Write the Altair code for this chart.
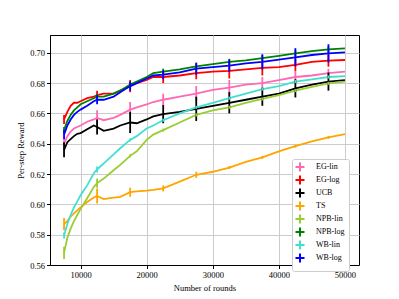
import altair as alt
import pandas as pd

rounds = [7500, 8000, 8500, 9000, 9500, 10000, 11000, 12000, 12500, 13500, 15000, 16000,
          17500, 18500, 20000, 21000, 22500, 25000, 27500, 30000, 32500, 35000, 37500,
          40000, 42500, 45000, 47500, 50000]

eg_lin = [0.640, 0.645, 0.648, 0.650, 0.651, 0.652, 0.6545, 0.656, 0.657, 0.6555, 0.657, 0.659,
          0.6625, 0.664, 0.666, 0.6675, 0.669, 0.671, 0.673, 0.6755, 0.677, 0.679, 0.680,
          0.682, 0.684, 0.685, 0.6865, 0.6875]
eg_log = [0.656, 0.661, 0.665, 0.667, 0.667, 0.668, 0.670, 0.671, 0.672, 0.673, 0.673, 0.675,
          0.678, 0.680, 0.682, 0.684, 0.684, 0.685, 0.6865, 0.6875, 0.688, 0.689, 0.690,
          0.6905, 0.692, 0.694, 0.6948, 0.6952]
ucb = [0.636, 0.641, 0.643, 0.645, 0.6465, 0.647, 0.6495, 0.652, 0.651, 0.6485, 0.650, 0.652,
       0.654, 0.6535, 0.656, 0.658, 0.6595, 0.661, 0.663, 0.665, 0.667, 0.669, 0.671,
       0.673, 0.6765, 0.679, 0.681, 0.682]
ts = [0.587, 0.589, 0.592, 0.594, 0.596, 0.598, 0.6015, 0.6045, 0.6055, 0.6035, 0.6045, 0.605,
      0.608, 0.6085, 0.609, 0.6095, 0.6105, 0.615, 0.6195, 0.6215, 0.6243, 0.628, 0.631,
      0.635, 0.6384, 0.6415, 0.6442, 0.6463]
npb_lin = [0.568, 0.578, 0.584, 0.589, 0.593, 0.597, 0.604, 0.6115, 0.614, 0.617, 0.6225, 0.626,
           0.632, 0.635, 0.6425, 0.646, 0.649, 0.654, 0.659, 0.662, 0.664, 0.667, 0.6695,
           0.672, 0.675, 0.6775, 0.6798, 0.681]
npb_log = [0.649, 0.655, 0.659, 0.662, 0.664, 0.666, 0.668, 0.670, 0.671, 0.671, 0.673, 0.675,
           0.679, 0.681, 0.684, 0.6865, 0.6875, 0.689, 0.691, 0.6925, 0.694, 0.695, 0.6965,
           0.698, 0.6996, 0.701, 0.7022, 0.7029]
wb_lin = [0.5795, 0.587, 0.593, 0.598, 0.602, 0.606, 0.6125, 0.6205, 0.623, 0.627, 0.633, 0.637,
          0.6425, 0.645, 0.650, 0.652, 0.6555, 0.660, 0.664, 0.667, 0.670, 0.673, 0.676,
          0.678, 0.681, 0.6825, 0.684, 0.6846]
wb_log = [0.646, 0.652, 0.656, 0.659, 0.661, 0.6625, 0.665, 0.668, 0.669, 0.669, 0.671, 0.674,
          0.678, 0.680, 0.683, 0.685, 0.6855, 0.687, 0.6895, 0.6905, 0.6915, 0.693, 0.694,
          0.6955, 0.697, 0.6985, 0.6996, 0.7002]

bar_rounds = [7500, 12500, 17500, 22500, 27500, 32500, 37500, 42500, 47500]
err_eg_lin = [0.003, 0.005, 0.005, 0.004, 0.005, 0.005, 0.004, 0.004, 0.003]
err_eg_log = [0.003, 0.003, 0.004, 0.004, 0.004, 0.005, 0.005, 0.004, 0.004]
err_ucb = [0.005, 0.005, 0.007, 0.006, 0.008, 0.007, 0.006, 0.006, 0.006]
err_ts = [0.004, 0.005, 0.003, 0.002, 0.002, 0.001, 0.001, 0.001, 0.001]
err_npb_lin = [0.004, 0.003, 0.001, 0.001, 0.001, 0.001, 0.001, 0.001, 0.001]
err_npb_log = [0.002, 0.002, 0.002, 0.002, 0.002, 0.002, 0.002, 0.002, 0.002]
err_wb_lin = [0.002, 0.002, 0.001, 0.001, 0.001, 0.001, 0.001, 0.001, 0.001]
err_wb_log = [0.003, 0.003, 0.003, 0.003, 0.004, 0.004, 0.005, 0.006, 0.006]

names = ["EG-lin", "EG-log", "UCB", "TS", "NPB-lin", "NPB-log", "WB-lin", "WB-log"]
colors = ["#ff69b4", "#ff0000", "#000000", "#ffa500", "#9acd32", "#008000", "#40e0d0", "#0000ff"]
series = [eg_lin, eg_log, ucb, ts, npb_lin, npb_log, wb_lin, wb_log]
errs = [err_eg_lin, err_eg_log, err_ucb, err_ts, err_npb_lin, err_npb_log, err_wb_lin, err_wb_log]

x_ticks = [10000, 20000, 30000, 40000, 50000]
y_ticks = [0.56, 0.58, 0.60, 0.62, 0.64, 0.66, 0.68, 0.70]

line_rows, bar_rows = [], []
for k, (name, vals, err) in enumerate(zip(names, series, errs)):
    for r, v in zip(rounds, vals):
        line_rows.append({"rounds": r, "reward": v, "method": name, "order": k})
    for r, e in zip(bar_rounds, err):
        m = vals[rounds.index(r)]
        bar_rows.append({"rounds": r, "reward": m - e, "hi": m + e, "method": name, "order": k})

lines_df = pd.DataFrame(line_rows)
bars_df = pd.DataFrame(bar_rows)

xscale = alt.Scale(domain=[5375, 52125], nice=False, zero=False)
yscale = alt.Scale(domain=[0.56, 0.7117], nice=False, zero=False)
cscale = alt.Scale(domain=names, range=colors)

xaxis = alt.Axis(title="Number of rounds", values=x_ticks,
                 format="d", titlePadding=4, labelOverlap=False)
yaxis = alt.Axis(title="Per-step Reward", values=y_ticks,
                 format=".2f", titlePadding=4, labelOverlap=False)

lines = alt.Chart(lines_df).mark_line(strokeWidth=1.8, clip=True).encode(
    x=alt.X("rounds:Q", scale=xscale, axis=xaxis),
    y=alt.Y("reward:Q", scale=yscale, axis=yaxis),
    color=alt.Color("method:N", scale=cscale, sort=names,
                    legend=alt.Legend(title=None, orient="none", legendX=242, legendY=124,
                                      symbolType="M-1.8,0H1.8M0,-1.8V1.8", symbolSize=25,
                                      symbolStrokeWidth=2, labelFont="Liberation Serif",
                                      labelFontSize=8, rowPadding=-7.2, padding=4,
                                      strokeColor="#cccccc", fillColor="white",
                                      cornerRadius=2, labelOffset=12, offset=0)),
    order="order:Q",
)

bars = alt.Chart(bars_df).mark_rule(strokeWidth=1.8, clip=True).encode(
    x=alt.X("rounds:Q", scale=xscale, axis=xaxis),
    y=alt.Y("reward:Q", scale=yscale, axis=yaxis),
    y2="hi:Q",
    color=alt.Color("method:N", scale=cscale, legend=None),
)

chart = alt.layer(lines, bars).properties(
    width=309, height=230,
    autosize=alt.AutoSizeParams(type="none"),
    padding={"left": 42, "top": 27, "right": 20, "bottom": 26},
).configure_view(stroke="black", strokeWidth=1).configure_axis(
    grid=True, gridColor="#cccccc", gridWidth=1, domainColor="black", tickColor="black",
    tickSize=3.5, labelFont="Liberation Serif", labelFontSize=8.5, labelColor="black",
    titleFont="Liberation Serif", titleFontSize=8.5, titleFontWeight="normal", titleColor="black",
    labelPadding=2,
)

chart.save("out.html", embed_options={"renderer": "svg", "actions": False})
